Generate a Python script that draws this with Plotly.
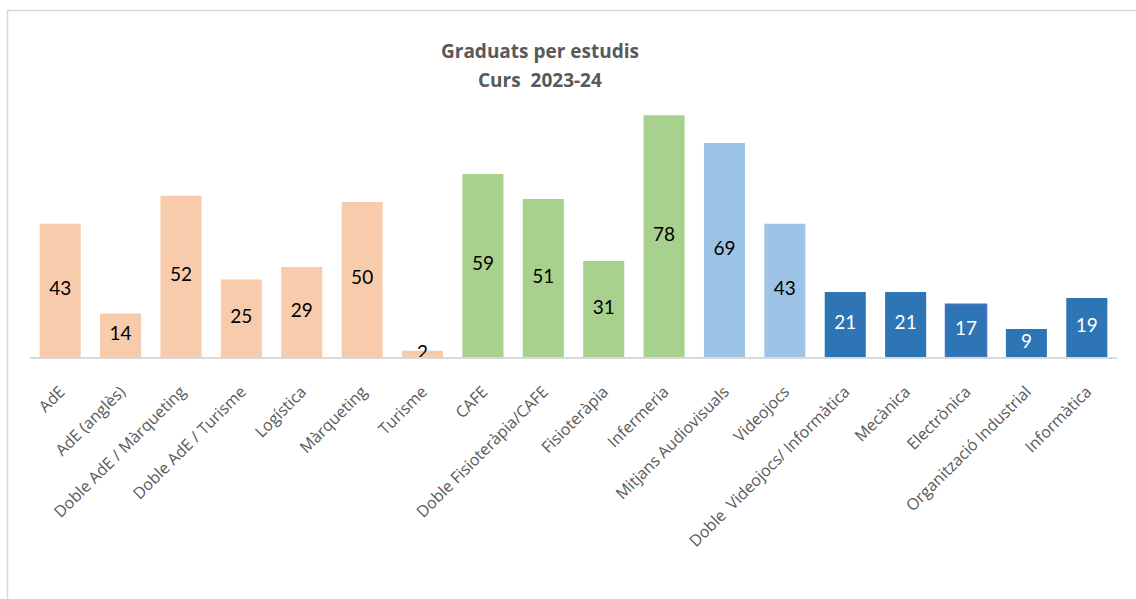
import plotly.graph_objects as go

categories = ["AdE", "AdE (anglès)", "Doble AdE / Màrqueting", "Doble AdE / Turisme",
              "Logística", "Màrqueting", "Turisme", "CAFE", "Doble Fisioteràpia/CAFE",
              "Fisioteràpia", "Infermeria", "Mitjans Audiovisuals", "Videojocs",
              "Doble  Videojocs/ Informàtica", "Mecànica", "Electrònica",
              "Organització Industrial", "Informàtica"]
graduats = [43, 14, 52, 25, 29, 50, 2, 59, 51, 31, 78, 69, 43, 21, 21, 17, 9, 19]
grups = ["emp"] * 7 + ["sal"] * 4 + ["aud"] * 2 + ["eng"] * 5

colors = {"emp": "#F8CBAD", "sal": "#A9D18E", "aud": "#9DC3E6", "eng": "#2E75B6"}
text_colors = {"emp": "black", "sal": "black", "aud": "black", "eng": "white"}

bar_colors = [colors[g] for g in grups]
label_colors = [text_colors[g] for g in grups]
# Electrònica bar has a thin outline in the original
outline_w = [1.5 if c == "Electrònica" else 0 for c in categories]

fig = go.Figure()

fig.add_trace(go.Bar(
    x=categories,
    y=graduats,
    marker=dict(color=bar_colors, line=dict(width=outline_w, color="#4472C4")),
    hoverinfo="x+y",
))

# labels centred inside each bar
fig.add_trace(go.Scatter(
    x=categories,
    y=[v / 2 for v in graduats],
    mode="text",
    text=[str(v) for v in graduats],
    textfont=dict(family="Lato, sans-serif", size=19, color=label_colors),
    hoverinfo="skip",
))

title_font = dict(family="Open Sans, sans-serif", size=19, color="#595959")
fig.add_annotation(xref="paper", yref="paper", x=0.469, y=1.232,
                   text="<b>Graduats per estudis</b>", showarrow=False,
                   font=title_font, yanchor="middle")
fig.add_annotation(xref="paper", yref="paper", x=0.469, y=1.115,
                   text="<b>Curs  2023-24</b>", showarrow=False,
                   font=title_font, yanchor="middle")

# chart area border
fig.add_shape(
    type="rect", xref="paper", yref="paper",
    x0=-0.0207, x1=1.1, y0=-1.2, y1=1.397,
    line=dict(color="#D9D9D9", width=1.5),
    layer="below",
)

fig.update_layout(
    width=1136,
    height=599,
    margin=dict(t=109, b=242, l=30, r=19),
    plot_bgcolor="white",
    paper_bgcolor="white",
    showlegend=False,
    bargap=0.32,
)

fig.update_xaxes(
    range=[-0.5, len(categories) - 0.5],
    tickangle=-45,
    tickfont=dict(family="Open Sans, sans-serif", size=16, color="#595959"),
    ticklabelstandoff=17,
    showline=True,
    linecolor="#D9D9D9",
    linewidth=2,
    ticks="",
)

fig.update_yaxes(
    range=[0, 80],
    visible=False,
)

fig.write_html("out.html", config={"displayModeBar": False},
               post_script="document.body.style.margin='0';")
